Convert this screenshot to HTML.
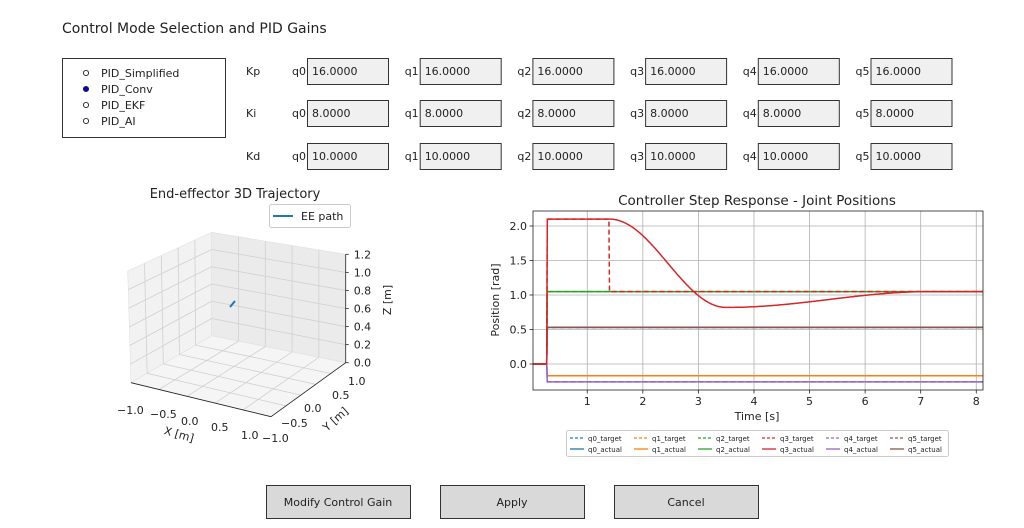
<!DOCTYPE html>
<html><head><meta charset="utf-8"><style>
body{margin:0;background:#fff;width:1024px;height:528px;overflow:hidden;font-family:"DejaVu Sans","Liberation Sans",sans-serif}
svg{position:absolute;left:0;top:0}
</style></head><body>
<svg id="s" width="1024" height="528" font-family="DejaVu Sans, Liberation Sans, sans-serif" fill="none"></svg>
<script>
const s=document.getElementById('s');let h='';
function T(x,y,t,sz,o){o=o||'';h+=`<text x="${x}" y="${y}" font-size="${sz}" fill="#222" ${o}>${t}</text>`;}
function L(x1,y1,x2,y2,c,w,o){h+=`<line x1="${x1}" y1="${y1}" x2="${x2}" y2="${y2}" stroke="${c}" stroke-width="${w}" ${o||''}/>`;}
T(62,33,'Control Mode Selection and PID Gains',14);
h+='<rect x="62.5" y="58.5" width="163" height="79" stroke="#333" fill="#fff"/>';
['PID_Simplified','PID_Conv','PID_EKF','PID_AI'].forEach((n,i)=>{let y=73+i*16;h+=`<circle cx="86" cy="${y}" r="2.6" stroke="#222" stroke-width="0.9" fill="${i==1?'#0000cc':'#fff'}"/>`;T(101,y+4,n,11);});
const rows=[['Kp','16.0000',58],['Ki','8.0000',100],['Kd','10.0000',143]];
rows.forEach(r=>{T(246,r[2]+17,r[0],11);for(let i=0;i<6;i++){let bx=307+i*112.7;T(bx-15,r[2]+17,'q'+i,11);h+=`<rect x="${bx+.5}" y="${r[2]+.5}" width="81" height="26" fill="#f0f0f0" stroke="#333"/>`;T(bx+5,r[2]+17,r[1],11);}});
[['Modify Control Gain',266],['Apply',440],['Cancel',614]].forEach(b=>{h+=`<rect x="${b[1]+.5}" y="485.5" width="144" height="33" fill="#d9d9d9" stroke="#333"/>`;T(b[1]+72,506,b[0],11,'text-anchor="middle"');});
const X=t=>531.7+t*55.57,Y=v=>364-v*69;
const ax0=533,ax1=983,ay0=211,ay1=390;
T(757,205,'Controller Step Response - Joint Positions',13.5,'text-anchor="middle"');
for(let t=1;t<=8;t++){L(X(t),ay0,X(t),ay1,'#b0b0b0',0.8);L(X(t),ay1,X(t),ay1+3.5,'#222',0.8);T(X(t),ay1+15,t,11,'text-anchor="middle"');}
[0,0.5,1,1.5,2].forEach(v=>{L(ax0,Y(v),ax1,Y(v),'#b0b0b0',0.8);L(ax0-3.5,Y(v),ax0,Y(v),'#222',0.8);T(ax0-6,Y(v)+4,v.toFixed(1),11,'text-anchor="end"');});
T(757,420,'Time [s]',11,'text-anchor="middle"');
T(499,300,'Position [rad]',11,'text-anchor="middle" transform="rotate(-90 499 300)"');
h+=`<clipPath id="c"><rect x="${ax0}" y="${ay0}" width="${ax1-ax0}" height="${ay1-ay0}"/></clipPath><g clip-path="url(#c)">`;
function P(f,c,dash){let p='';for(let t=0;t<=8.2;t+=0.01){p+=(p?'L':'M')+X(t).toFixed(1)+','+Y(f(t)).toFixed(1);}h+=`<path d="${p}" stroke="${c}" stroke-width="1.5" ${dash?'stroke-dasharray="5,3"':''}/>`;}
const st=(v)=>t=>t<0.28?0:v;
const cols=['#1f77b4','#ff7f0e','#2ca02c','#d62728','#9467bd','#8c564b'];
const vals=[0.53,-0.17,1.05,null,-0.26,0.53];
const q3a=t=>{if(t<0.28)return 0;if(t<1.4)return 2.1;if(t<3.5){let u=(t-1.4)/2.1;return 0.82+(2.1-0.82)*(1+Math.cos(Math.PI*u))/2;}if(t<7.2){let u=(t-3.5)/3.7;return 0.82+0.23*(1-Math.cos(Math.PI*u))/2;}return 1.05;};
const q3t=t=>t<0.28?0:(t<1.4?2.1:1.05);
[0,1,2,4,5].forEach(i=>{P(st(vals[i]),cols[i],false);P(st(vals[i]),cols[i],true);});
P(q3t,cols[3],true);P(q3a,cols[3],false);
h+='</g>';
h+=`<rect x="${ax0}" y="${ay0}" width="${ax1-ax0}" height="${ay1-ay0}" stroke="#222" stroke-width="0.8"/>`;
h+='<rect x="566.5" y="430.5" width="382" height="26" fill="#fff" stroke="#ccc" rx="2"/>';
for(let i=0;i<6;i++){let lx=570+i*64;L(lx,438,lx+14,438,cols[i],1.3,'stroke-dasharray="3,2"');T(lx+18,441,'q'+i+'_target',7);L(lx,449,lx+14,449,cols[i],1.3);T(lx+18,452,'q'+i+'_actual',7);}
T(235,198,'End-effector 3D Trajectory',13,'text-anchor="middle"');
h+='<rect x="269.5" y="204.5" width="81" height="23" fill="#fff" stroke="#ccc" rx="2"/>';L(273,216,293,216,'#1f77b4',2);T(301,220,'EE path',11);
const A=[127.7,271],B=[211.7,232.3],C=[211.7,335.7],D=[131,382.7],E=[345.7,254.3],F=[345.7,362.7],G=[271,416.7];
const pg=(pts,f)=>{h+=`<polygon points="${pts.map(p=>p.join(',')).join(' ')}" fill="${f}" stroke="#e0e0e0" stroke-width="0.6"/>`;};
pg([A,B,C,D],'#f2f2f2');pg([B,E,F,C],'#ebebeb');pg([D,C,F,G],'#f5f5f5');
const lerp=(p,q,u)=>[p[0]+(q[0]-p[0])*u,p[1]+(q[1]-p[1])*u];
const gl=(p,q)=>L(p[0],p[1],q[0],q[1],'#d0d0d0',0.8);
for(let k=1;k<5;k++){let u=k/5;
 gl(lerp(D,G,u),lerp(C,F,u)); gl(lerp(C,F,u),lerp(B,E,u));
 gl(lerp(D,C,u),lerp(G,F,u)); gl(lerp(D,C,u),lerp(A,B,u));}
for(let k=1;k<6;k++){let u=k/6;gl(lerp(D,A,u),lerp(C,B,u));gl(lerp(C,B,u),lerp(F,E,u));}
for(let k=0;k<=6;k++){let p=lerp(F,E,k/6);L(p[0],p[1],p[0]+3,p[1],'#222',0.8);T(p[0]+8,p[1]+4,(k*0.2).toFixed(1),11);}
L(F[0],F[1],E[0],E[1],'#222',0.8);L(D[0],D[1],G[0],G[1],'#222',0.8);L(G[0],G[1],F[0],F[1],'#222',0.8);
T(391,300,'Z [m]',11,'text-anchor="middle" transform="rotate(-90 391 300)"');
[['−1.0',117,414],['−0.5',150,418],['0.0',181,425],['0.5',211,431],['1.0',241,439]].forEach(a=>T(a[1],a[2],a[0],11));
[['1.0',348,385],['0.5',332,399],['0.0',304,412],['−0.5',281,427],['−1.0',262,442]].forEach(a=>T(a[1],a[2],a[0],11));
T(178,438,'X [m]',11,'text-anchor="middle" transform="rotate(16 178 438)"');
T(338,422,'Y [m]',11,'text-anchor="middle" transform="rotate(-42 338 422)"');
L(230,307,235,301,'#1f77b4',2);
s.innerHTML=h;
</script>
</body></html>
